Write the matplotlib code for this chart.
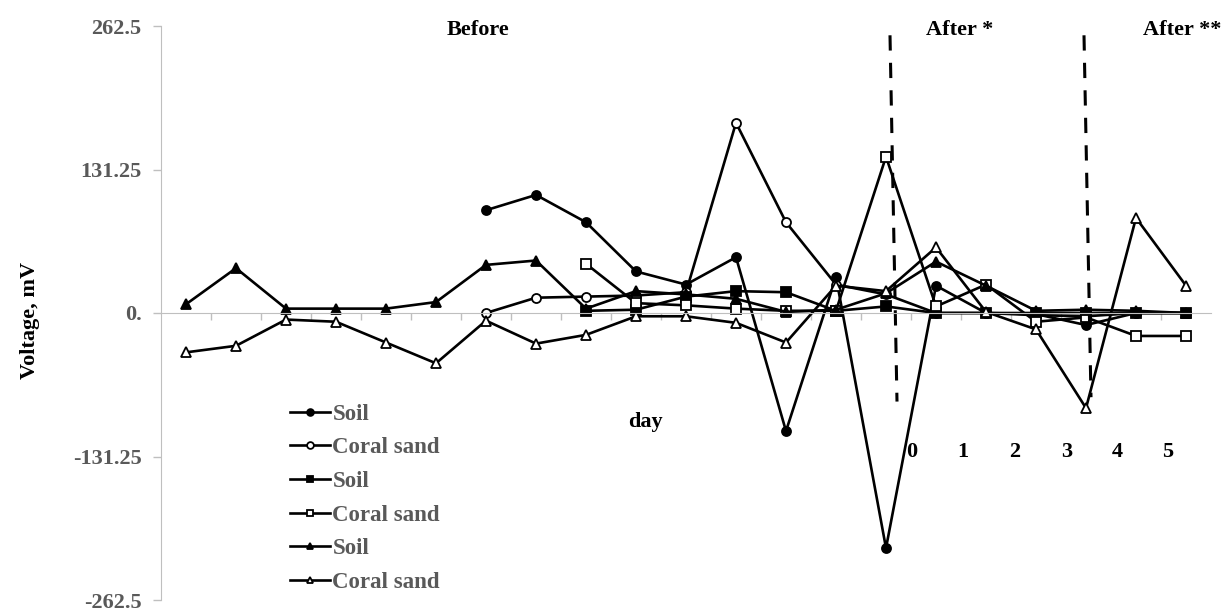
import numpy as np
import matplotlib
matplotlib.use('Agg')
import matplotlib.pyplot as plt

nan = np.nan

# Voltage readings (mV), one value per sampling point, nan where a series has no reading
soil_circle = [nan, nan, nan, nan, nan, nan, 94, 108, 83, 38, 26, 51, -108, 33, -215, 25, 0, -1, -11, 0, 0]
coral_circle = [nan, nan, nan, nan, nan, nan, 0, 14, 15, 16, 19, 174, 83, 26, 17, 0, 0, -2, -3, 0, 0]
soil_square = [nan, nan, nan, nan, nan, nan, nan, nan, 2, 3, 15, 20, 19, 2, 6, 0, 0, 0, 0, 0, 0]
coral_square = [nan, nan, nan, nan, nan, nan, nan, nan, 45, 9, 7, 4, 2, 2, 143, 6, 26, -8, -4, -21, -21]
soil_triangle = [8, 41, 4, 4, 4, 10, 44, 48, 4, 20, 17, 13, 1, 3, 18, 47, 25, 2, 3, 2, 0]
coral_triangle = [-36, -30, -6, -8, -27, -46, -7, -28, -20, -3, -3, -9, -27, 25, 20, 60, 1, -15, -87, 87, 25]

series_labels = ['Soil', 'Coral sand', 'Soil', 'Coral sand', 'Soil', 'Coral sand']
y_ticks = [-262.5, -131.25, 0, 131.25, 262.5]
y_tick_labels = ['-262.5', '-131.25', '0.', '131.25', '262.5']
day_labels = ['0', '1', '2', '3', '4', '5']

n_points = len(soil_triangle)
x = np.arange(n_points)

plt.rcParams['font.family'] = ['Liberation Serif', 'DejaVu Serif']
plt.rcParams['font.weight'] = 'bold'

fig = plt.figure(figsize=(12.26, 6.12), dpi=100)
ax = fig.add_axes([161 / 1226, 12 / 612, 1050 / 1226, 574 / 612])

styles = [('o', 'black'), ('o', 'white'), ('s', 'black'),
          ('s', 'white'), ('^', 'black'), ('^', 'white')]
all_series = [soil_circle, coral_circle, soil_square, coral_square, soil_triangle, coral_triangle]
for vals, (mk, face), lab in zip(all_series, styles, series_labels):
    ax.plot(x, vals, color='black', lw=1.9, marker=mk, ms=6.5,
            mfc=face, mec='black', mew=1.3, label=lab)

# treatment markers
ax.plot([14.08, 14.22], [254, -81], color='black', lw=2.2, ls=(0, (5, 4)))
ax.plot([17.96, 18.1], [254, -77], color='black', lw=2.2, ls=(0, (5, 4)))

ax.set_xlim(-0.5, n_points - 0.5)
ax.set_ylim(-262.5, 262.5)

ax.set_yticks(y_ticks)
ax.set_yticklabels(y_tick_labels)
ax.tick_params(axis='y', direction='out', length=6, width=1, color='#bfbfbf',
               labelsize=16, labelcolor='#595959', pad=8)

# category axis crossing at zero
ax.spines['bottom'].set_position(('data', 0))
ax.spines['bottom'].set_color('#bfbfbf')
ax.spines['left'].set_color('#bfbfbf')
ax.spines['top'].set_visible(False)
ax.spines['right'].set_visible(False)
ax.set_xticks(np.arange(0.5, n_points - 0.5, 1.0))
ax.set_xticklabels([])
ax.tick_params(axis='x', direction='out', length=5, width=1, color='#bfbfbf')

fig.text(30 / 1226, 1 - 320 / 612, 'Voltage, mV', rotation=90, ha='center', va='center',
         fontsize=16, fontweight='bold')

ax.text(5.84, 259, 'Before', ha='center', va='center', fontsize=16, fontweight='bold')
ax.text(15.48, 259, 'After *', ha='center', va='center', fontsize=16, fontweight='bold')
ax.text(19.93, 259, 'After **', ha='center', va='center', fontsize=16, fontweight='bold')
ax.text(9.18, -100, 'day', ha='center', va='center', fontsize=16, fontweight='bold')

day_pos = [14.52, 15.54, 16.58, 17.62, 18.62, 19.64]
for px, lab in zip(day_pos, day_labels):
    ax.text(px, -127, lab, ha='center', va='center', fontsize=16, fontweight='bold')

leg = ax.legend(loc='upper left', bbox_to_anchor=(0.112, 0.362), frameon=False,
                prop={'size': 16.5, 'weight': 'bold'}, handlelength=1.75,
                handletextpad=0.1, labelspacing=0.55, borderpad=0, markerscale=0.75)
for t in leg.get_texts():
    t.set_color('#595959')
    t.set_fontweight('bold')

fig.savefig('out.png', dpi=100)
